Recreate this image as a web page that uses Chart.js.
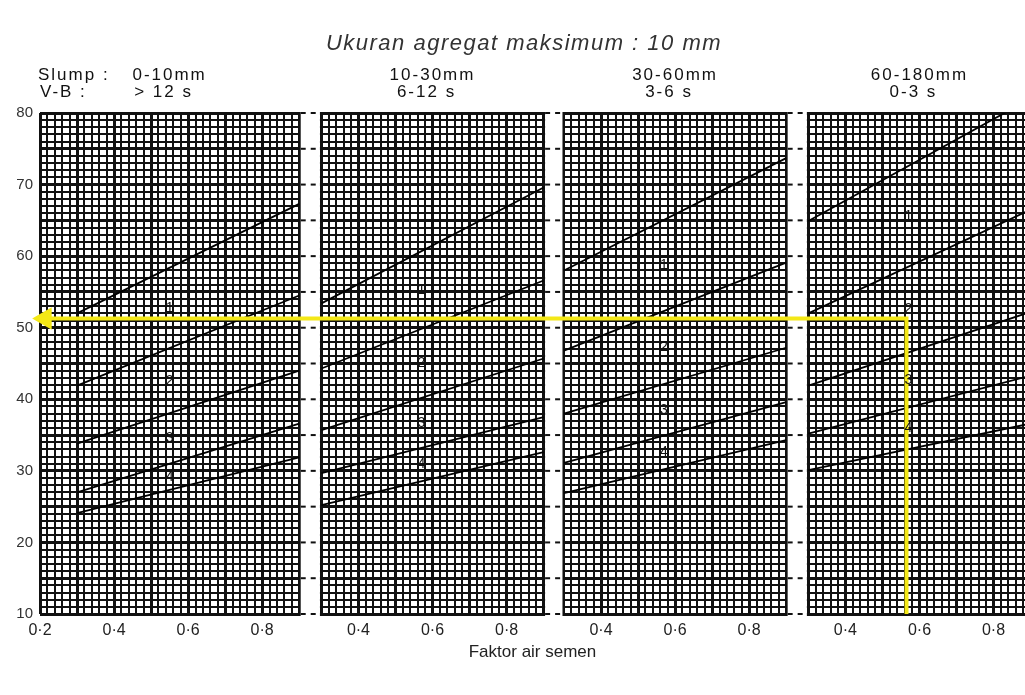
<!DOCTYPE html>
<html>
<head>
<meta charset="utf-8">
<script src="https://cdn.jsdelivr.net/npm/chart.js@4.4.0/dist/chart.umd.min.js"></script>
<style>
  html, body { margin: 0; padding: 0; background: #fff; }
  #wrap { position: relative; width: 1025px; height: 695px; }
</style>
</head>
<body>
<div id="wrap"><canvas id="myChart"></canvas></div>
<script>
// panel headers (slump / V-B time)
var chartTitle = "Ukuran agregat maksimum : 10 mm";
var slumpLabels = ["0-10mm", "10-30mm", "30-60mm", "60-180mm"];
var vebeLabels = ["> 12 s", "6-12 s", "3-6 s", "0-3 s"];

// w/c range of each panel and the labelled ticks
var wcMin = [0.2, 0.3, 0.3, 0.3];
var wcMax = [0.9, 0.9, 0.9, 0.9];
var wcLabels = [[0.2, 0.4, 0.6, 0.8], [0.4, 0.6, 0.8], [0.4, 0.6, 0.8], [0.4, 0.6, 0.8]];
var yTickLabels = [10, 20, 30, 40, 50, 60, 70, 80];

// % fines of each line, read at w/c 0.3 and 0.9 (top line first)
var lineWc = [0.3, 0.9];
var finesP1 = [[52.0, 67.3], [41.9, 54.5], [33.8, 44.0], [27.0, 36.6], [24.1, 31.9]];
var finesP2 = [[53.4, 69.6], [44.3, 56.6], [35.7, 45.7], [29.7, 37.5], [25.2, 32.6]];
var finesP3 = [[58.0, 73.7], [46.8, 59.1], [38.0, 47.2], [31.1, 39.6], [26.9, 34.3]];
var finesP4 = [[64.9, 82.0], [52.0, 66.5], [41.9, 52.2], [35.2, 43.3], [30.1, 36.6]];
var zoneNames = ["1", "2", "3", "4"];

// yellow reading in the last panel
var readWc = 0.565;
var readFines = 51.3;

var fines = [finesP1, finesP2, finesP3, finesP4];
var gaps = [0.06, 0.055, 0.06];
var xMax = 2.66;

// panels are laid side by side on one x scale
var panelStart = [];
var pos = 0;
for (var i = 0; i < 4; i++) {
    panelStart.push(pos);
    pos += wcMax[i] - wcMin[i] + (gaps[i] || 0);
}
function gx(p, wc) { return panelStart[p] + (wc - wcMin[p]); }
function toLocal(g) {
    for (var p = 3; p >= 0; p--) {
        if (g >= panelStart[p] - 1e-6) {
            return { p: p, wc: Math.round((wcMin[p] + g - panelStart[p]) * 100) / 100 };
        }
    }
    return { p: 0, wc: wcMin[0] };
}

var xTicks = [];
for (var p = 0; p < 4; p++) {
    var n = Math.round((wcMax[p] - wcMin[p]) / 0.02);
    for (var k = 0; k <= n; k++) {
        var v = gx(p, wcMin[p] + k * 0.02);
        if (v <= xMax + 1e-6) xTicks.push({ value: v });
    }
}
var yTicks = [];
for (var y = 10; y <= 80; y++) yTicks.push({ value: y });

var datasets = [];
datasets.push({
    data: [
        { x: gx(3, readWc), y: 10 },
        { x: gx(3, readWc), y: readFines },
        { x: gx(0, wcMin[0]) + 0.014, y: readFines }
    ],
    borderColor: "#f4e816",
    backgroundColor: "#f4e816",
    borderWidth: 4,
    pointRadius: [0, 0, 9],
    pointStyle: "triangle",
    pointRotation: 270,
    borderJoinStyle: "miter",
    clip: false
});
fines.forEach(function (set, p) {
    set.forEach(function (f) {
        datasets.push({
            data: [{ x: gx(p, lineWc[0]), y: f[0] }, { x: gx(p, lineWc[1]), y: f[1] }],
            borderColor: "#000",
            borderWidth: 1.8,
            pointRadius: 0
        });
    });
});

function finesAt(p, i, wc) {
    var f = fines[p][i];
    return f[0] + (f[1] - f[0]) * (wc - lineWc[0]) / (lineWc[1] - lineWc[0]);
}

var panelPlugin = {
    id: "panels",
    beforeDatasetsDraw: function (chart) {
        var ctx = chart.ctx, area = chart.chartArea;
        var xs = chart.scales.x, ys = chart.scales.y;
        ctx.save();
        for (var i = 0; i < 3; i++) {
            var left = xs.getPixelForValue(gx(i, wcMax[i])) + 1.5;
            var right = xs.getPixelForValue(panelStart[i + 1]) - 1.5;
            ctx.fillStyle = "#fff";
            ctx.fillRect(left, area.top - 3, right - left, area.bottom - area.top + 6);
            ctx.strokeStyle = "#111";
            ctx.lineWidth = 2;
            ctx.setLineDash([5, 5]);
            for (var v = 10; v <= 80; v += 5) {
                var yy = ys.getPixelForValue(v);
                ctx.beginPath();
                ctx.moveTo(left, yy);
                ctx.lineTo(right, yy);
                ctx.stroke();
            }
        }
        ctx.restore();
    },
    afterDatasetsDraw: function (chart) {
        var ctx = chart.ctx;
        var xs = chart.scales.x, ys = chart.scales.y;
        ctx.save();
        ctx.textBaseline = "middle";

        // title
        ctx.fillStyle = "#333";
        ctx.font = 'italic 22px "Liberation Sans", Arial, sans-serif';
        ctx.letterSpacing = "1.5px";
        ctx.textAlign = "center";
        ctx.fillText(chartTitle, 524, 44);

        // headers
        ctx.fillStyle = "#111";
        ctx.font = '17px "Liberation Sans", Arial, sans-serif';
        ctx.letterSpacing = "2px";
        ctx.textAlign = "left";
        ctx.fillText("Slump :", 38, 75);
        ctx.fillText("V-B :", 40, 92);
        ctx.textAlign = "center";
        for (var p = 0; p < 4; p++) {
            var mid = (wcMin[p] + wcMax[p]) / 2;
            var hx = xs.getPixelForValue(gx(p, mid));
            ctx.fillText(slumpLabels[p], hx, 75);
            ctx.fillText(vebeLabels[p], hx - 6, 92);
        }

        // zone numbers between the lines
        ctx.letterSpacing = "0px";
        ctx.font = '14px "Liberation Sans", Arial, sans-serif';
        for (var q = 0; q < 4; q++) {
            var zw = q === 0 ? 0.55 : 0.57;
            for (var z = 0; z < zoneNames.length; z++) {
                var fy = (finesAt(q, z, zw) + finesAt(q, z + 1, zw)) / 2;
                ctx.fillText(zoneNames[z], xs.getPixelForValue(gx(q, zw)), ys.getPixelForValue(fy));
            }
        }
        ctx.restore();
    }
};

Chart.defaults.font.family = '"Liberation Sans", Arial, sans-serif';

new Chart("myChart", {
    type: "line",
    data: { datasets: datasets },
    plugins: [panelPlugin],
    options: {
        responsive: true,
        maintainAspectRatio: false,
        animation: false,
        layout: { autoPadding: false, padding: { left: 0, right: 0, top: 113, bottom: 32 } },
        plugins: {
            legend: { display: false },
            tooltip: { enabled: false },
            title: { display: false }
        },
        scales: {
            x: {
                type: "linear",
                min: 0,
                max: xMax,
                afterBuildTicks: function (s) { s.ticks = xTicks.slice(); },
                afterFit: function (s) { s.height = 49; s.paddingLeft = 0; s.paddingRight = 0; },
                border: { display: false },
                grid: {
                    drawTicks: false,
                    color: "#111",
                    lineWidth: function (c) {
                        var l = toLocal(c.tick.value);
                        return Math.round(l.wc * 100) % 10 === 0 ? 3 : 2;
                    }
                },
                ticks: {
                    autoSkip: false,
                    maxRotation: 0,
                    padding: 7,
                    color: "#222",
                    font: { size: 16 },
                    callback: function (value) {
                        var l = toLocal(value);
                        return wcLabels[l.p].indexOf(l.wc) >= 0 ? l.wc.toFixed(1).replace(".", "\u00b7") : "";
                    }
                },
                title: {
                    display: true,
                    text: "Faktor air semen",
                    color: "#222",
                    font: { size: 17 },
                    padding: { top: 0, bottom: 0 }
                }
            },
            y: {
                min: 10,
                max: 80,
                afterBuildTicks: function (s) { s.ticks = yTicks.slice(); },
                afterFit: function (s) { s.width = 40; },
                border: { display: false },
                grid: {
                    drawTicks: false,
                    color: "#111",
                    lineWidth: function (c) { return c.tick.value % 5 === 0 ? 3 : 2; }
                },
                ticks: {
                    autoSkip: false,
                    padding: 7,
                    color: "#333",
                    font: { size: 15 },
                    callback: function (value) {
                        return yTickLabels.indexOf(value) >= 0 ? String(value) : "";
                    }
                }
            }
        }
    }
});
</script>
</body>
</html>
